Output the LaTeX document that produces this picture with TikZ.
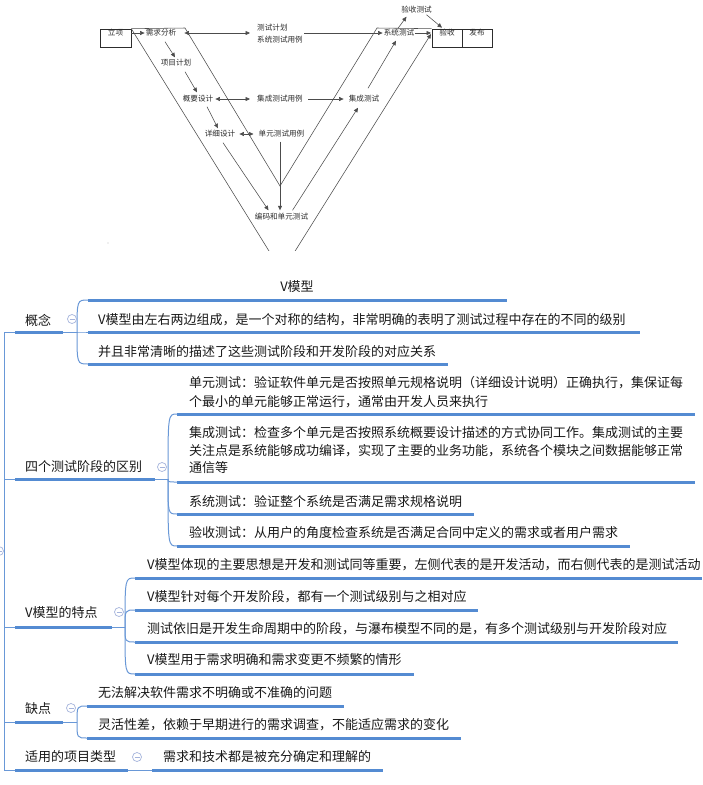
\documentclass[tikz,border=0pt]{standalone}
\usepackage{fontspec}
\setmainfont{Noto Sans CJK SC}
\usetikzlibrary{arrows.meta,calc}
\definecolor{ulblue}{RGB}{84,139,210}
\definecolor{cnblue}{RGB}{105,152,215}
\definecolor{foldc}{RGB}{165,180,220}
\definecolor{txt}{RGB}{25,25,25}
\definecolor{vline}{RGB}{45,45,45}
\newcommand\mmul[4]{\coordinate (#1-s) at (#2,#4); \coordinate (#1-e) at (#3,#4); \draw[ul] (#1-s) -- (#1-e);}
\newcommand\mmlink[2]{\draw[cn] (#1) .. controls (#1 |- #2) .. (#2);}
\begin{document}
\begin{tikzpicture}[x=1pt,y=-1pt,
  vtxt/.style={font=\fontsize{7.6}{12}\selectfont, text=vline, inner sep=1pt},
  vbox/.style={draw=vline, line width=0.6pt, minimum width=30pt, minimum height=18pt, inner sep=0pt},
  vl/.style={draw=vline!85, line width=0.55pt},
  va/.style={vl, -{Triangle[length=4.5pt,width=4pt]}},
  vaa/.style={vl, {Triangle[length=4.5pt,width=4pt]}-{Triangle[length=4.5pt,width=4pt]}},
  mt/.style={font=\fontsize{13}{18.5}\selectfont, text=txt, anchor=west, inner sep=0pt, align=left},
  ul/.style={draw=ulblue, line width=3pt},
  cn/.style={draw=cnblue, line width=1pt},
  fold/.style={circle, draw=foldc, line width=0.7pt, minimum size=9pt, inner sep=0pt, fill=white,
    path picture={\draw[foldc, line width=0.7pt] ([xshift=-2.5pt]path picture bounding box.center) -- ([xshift=2.5pt]path picture bounding box.center);}}
]
\fill[white] (0,0) rectangle (703,785);
\useasboundingbox (0,0) rectangle (703,785);

% ---------- V model picture ----------
\node[vbox, minimum width=31pt, label={[vtxt,yshift=5pt]center:立项}] (lx) at (115.5,38) {};
\node[vbox, label={[vtxt,yshift=5pt]center:验收}] (ys) at (447,38) {};
\node[vbox, label={[vtxt,yshift=5pt]center:发布}] (fb) at (477,38) {};

\node[vtxt] (xq) at (161,33) {需求分析};
\node[vtxt, align=left, anchor=west] (cs) at (256,34) {测试计划\\系统测试用例};
\node[vtxt] (xm) at (176,63) {项目计划};
\node[vtxt] (gy) at (198,99) {概要设计};
\node[vtxt] (jy) at (280,99) {集成测试用例};
\node[vtxt] (jc) at (364,99) {集成测试};
\node[vtxt] (xx) at (220,134) {详细设计};
\node[vtxt] (vdy) at (281.5,134) {单元测试用例};
\node[vtxt] (bm) at (281.5,217) {编码和单元测试};
\node[vtxt] (xt) at (399,33) {系统测试};
\node[vtxt] (yc) at (416.5,10) {验收测试};

\coordinate (vIL) at (185,28);
\coordinate (vBot) at (280,186);
\coordinate (vIR) at (377,28);
\coordinate (vOB) at (282,272);
\coordinate (vOR) at (431,34);
\draw[vl] (lx.north east) -- (vIL) -- (vBot) -- (vIR) -- (ys.north west);
\begin{scope}
\clip (0,0) rectangle (703,250);
\draw[vl] (lx.north east) -- (vOB);
\draw[va] (vOB) -- (vOR);
\end{scope}

\draw[va] (lx.east |- xq.west) -- (xq.west);
\draw[vaa] ($(xq.east)+(7,0)$) -- ($(cs.west |- xq.east)+(-6,0)$);
\draw[va] (cs.east |- xt.west) -- (xt.west);
\draw[va] (xt.east) -- (vOR |- xt.east);
\draw[va] ($(yc.south)+(10,0)$) -- ($(ys.north)+(-5,-1)$);
\draw[va] ($(xt.north)+(-1,0)$) -- ($(yc.south)+(-10,2)$);
\draw[va] ($(xq.south)+(4,4)$) -- ($(xm.north)+(-1,-1)$);
\draw[va] ($(xm.south)+(9,4)$) -- ($(gy.north)+(-1,-2)$);
\draw[vaa] ($(gy.east)+(1,0)$) -- ($(jy.west)+(-6,0)$);
\draw[va] ($(jy.east)+(4,0)$) -- ($(jc.west)+(-4,0)$);
\draw[va] ($(gy.south)+(9,3)$) -- ($(xx.north)+(-2,-1)$);
\draw[vaa] ($(xx.east)+(3,0)$) -- ($(vdy.west)+(-4,0)$);
\draw[va] ($(vdy.south)+(-1.5,3)$) -- ($(bm.north)+(-1.5,-2)$);
\draw[va] ($(xx.south)+(3,4)$) -- ($(bm.north)+(-13,-2)$);
\draw[va] ($(bm.north)+(11,-2)$) -- ($(jc.south)+(-6,4)$);
\draw[va] ($(jc.north)+(4,-6)$) -- ($(xt.south)+(-3,3)$);
\fill[gray!50] (108,243) circle (0.7);

% ---------- mind map ----------
\coordinate (S1) at (4,332);
\coordinate (S5) at (4,770);
\coordinate (F1) at (77,332);
\coordinate (F2) at (168,479);
\coordinate (F3) at (125,627);
\coordinate (F4) at (77,722);

\mmul{r}{88}{507}{300}
\mmul{g1}{88}{640}{332}
\mmul{g2}{88}{448}{364}
\mmul{B1}{15}{63}{332}
\mmul{B2}{15}{155}{479}
\mmul{B3}{15}{112}{627}
\mmul{B4}{15}{63}{722}
\mmul{B5}{15}{128}{770}
\mmul{s1}{177}{695}{414}
\mmul{s2}{177}{695}{482}
\mmul{s3}{177}{474}{514}
\mmul{s4}{177}{630}{546}
\mmul{t1}{135}{702}{578}
\mmul{t2}{135}{478}{610}
\mmul{t3}{135}{678}{642}
\mmul{t4}{135}{414}{674}
\mmul{q1}{87}{344}{706}
\mmul{q2}{87}{461}{738}
\mmul{a1}{152}{383}{770}

\draw[cn] (S1) -- (S5);
\foreach \b in {B1,B2,B3,B4,B5} \draw[cn] (S1 |- \b-s) -- (\b-s);
\draw[cn] (B1-e) -- (F1);
\mmlink{F1}{r-s} \mmlink{F1}{g1-s} \mmlink{F1}{g2-s}
\draw[cn] (B2-e) -- (F2);
\mmlink{F2}{s1-s} \mmlink{F2}{s2-s} \mmlink{F2}{s3-s} \mmlink{F2}{s4-s}
\draw[cn] (B3-e) -- (F3);
\mmlink{F3}{t1-s} \mmlink{F3}{t2-s} \mmlink{F3}{t3-s} \mmlink{F3}{t4-s}
\draw[cn] (B4-e) -- (F4);
\mmlink{F4}{q1-s} \mmlink{F4}{q2-s}
\draw[cn] (B5-e) -- (a1-s);

\node[fold] (fd0) at (-1,551) {};
\node[fold] (fd1) at (72,319) {};
\node[fold] (fd2) at (162,467) {};
\node[fold] (fd3) at (119,612) {};
\node[fold] (fd4) at (71,708) {};
\node[fold] (fd5) at (137,757) {};

\node[mt, anchor=center] (vm) at (297,287) {V模型};

\node[mt] (n1) at (25,320) {概念};
\node[mt] (n2) at (25,467) {四个测试阶段的区别};
\node[mt] (n3) at (25,613) {V模型的特点};
\node[mt] (n4) at (25,709) {缺点};
\node[mt] (n5) at (25,757) {适用的项目类型};

\node[mt] (g1t) at (98,320) {V模型由左右两边组成，是一个对称的结构，非常明确的表明了测试过程中存在的不同的级别};
\node[mt] (g2t) at (98,352) {并且非常清晰的描述了这些测试阶段和开发阶段的对应关系};

\node[mt, font=\fontsize{13}{19}\selectfont] (s1t) at (189,392.5) {单元测试：验证软件单元是否按照单元规格说明（详细设计说明）正确执行，集保证每\\个最小的单元能够正常运行，通常由开发人员来执行};
\node[mt, font=\fontsize{13}{17.5}\selectfont] (s2t) at (189,450.5) {集成测试：检查多个单元是否按照系统概要设计描述的方式协同工作。集成测试的主要\\关注点是系统能够成功编译，实现了主要的业务功能，系统各个模块之间数据能够正常\\通信等};
\node[mt] (s3t) at (189,502) {系统测试：验证整个系统是否满足需求规格说明};
\node[mt] (s4t) at (189,533) {验收测试：从用户的角度检查系统是否满足合同中定义的需求或者用户需求};

\node[mt] (t1t) at (147,565) {V模型体现的主要思想是开发和测试同等重要，左侧代表的是开发活动，而右侧代表的是测试活动};
\node[mt] (t2t) at (147,597) {V模型针对每个开发阶段，都有一个测试级别与之相对应};
\node[mt] (t3t) at (147,629) {测试依旧是开发生命周期中的阶段，与瀑布模型不同的是，有多个测试级别与开发阶段对应};
\node[mt] (t4t) at (147,660) {V模型用于需求明确和需求变更不频繁的情形};

\node[mt] (q1t) at (98,693) {无法解决软件需求不明确或不准确的问题};
\node[mt] (q2t) at (98,725) {灵活性差，依赖于早期进行的需求调查，不能适应需求的变化};

\node[mt] (a1t) at (163,757) {需求和技术都是被充分确定和理解的};
\end{tikzpicture}
\end{document}
